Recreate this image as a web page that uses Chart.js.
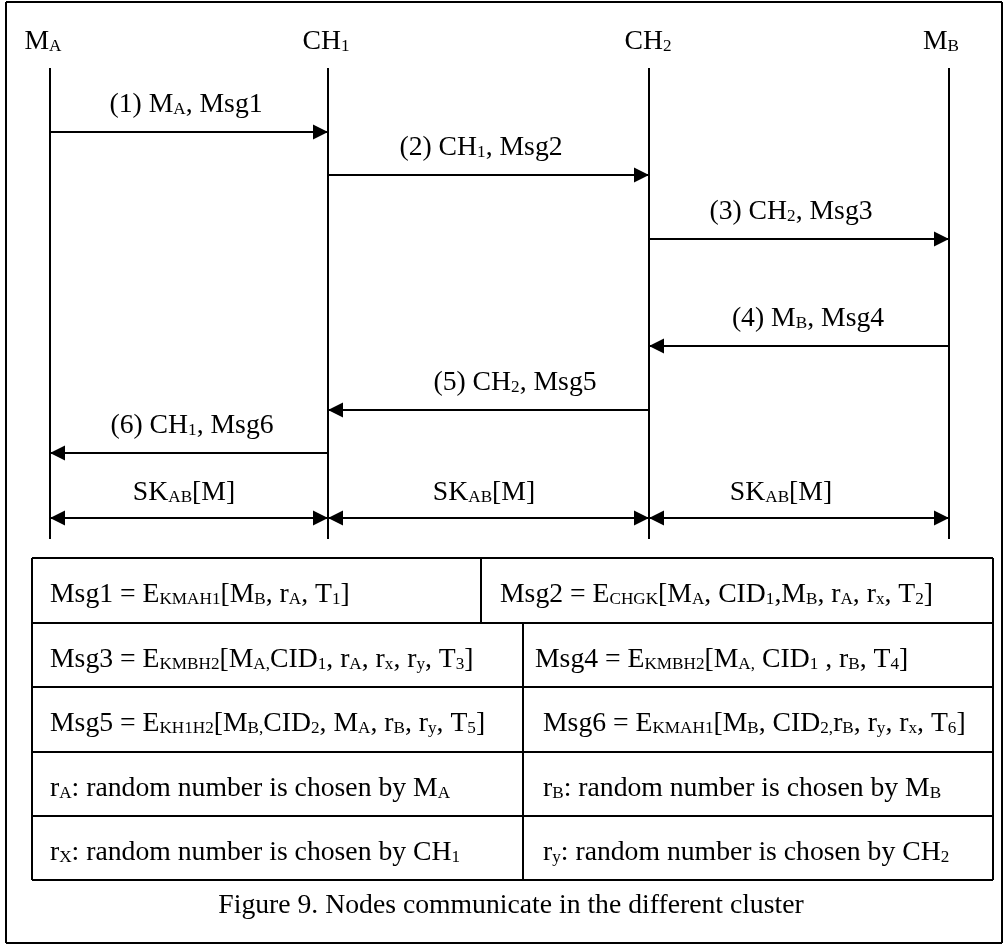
<!DOCTYPE html>
<html><head><meta charset="utf-8">
<script src="https://cdn.jsdelivr.net/npm/chart.js@4/dist/chart.umd.min.js"></script>
<style>html,body{margin:0;padding:0;background:#fff;}#wrap{width:1005px;height:945px;}</style>
</head><body><div id="wrap"><canvas id="c" width="1005" height="945"></canvas></div>
<script>
// ---- data ----
const participants = ['M_{A}', 'CH_{1}', 'CH_{2}', 'M_{B}'];
const lifelineX = [50, 328, 649, 949];
const messageFrom = [0, 1, 2, 3, 2, 1];
const messageTo   = [1, 2, 3, 2, 1, 0];
const messageY    = [132, 175, 239, 346, 410, 453];
const messageLabels = ['(1) M_{A}, Msg1', '(2) CH_{1}, Msg2', '(3) CH_{2}, Msg3',
                       '(4) M_{B}, Msg4', '(5) CH_{2}, Msg5', '(6) CH_{1}, Msg6'];
const keySpans = [[0, 1], [1, 2], [2, 3]];
const keyLabel = 'SK_{AB}[M]';
const tableLeft = [
  'Msg1 = E_{KMAH1}[M_{B}, r_{A}, T_{1}]',
  'Msg3 = E_{KMBH2}[M_{A,}CID_{1}, r_{A}, r_{x}, r_{y}, T_{3}]',
  'Msg5 = E_{KH1H2}[M_{B,}CID_{2}, M_{A}, r_{B}, r_{y}, T_{5}]',
  'r_{A}: random number is chosen by M_{A}',
  'r_{X}: random number is chosen by CH_{1}'
];
const tableRight = [
  'Msg2 = E_{CHGK}[M_{A}, CID_{1},M_{B}, r_{A}, r_{x}, T_{2}]',
  'Msg4 = E_{KMBH2}[M_{A,} CID_{1} , r_{B}, T_{4}]',
  'Msg6 = E_{KMAH1}[M_{B}, CID_{2,}r_{B}, r_{y}, r_{x}, T_{6}]',
  'r_{B}: random number is chosen by M_{B}',
  'r_{y}: random number is chosen by CH_{2}'
];
const caption = 'Figure 9. Nodes communicate in the different cluster';

// ---- layout ----
const W = 1005, H = 945;
const frame = {l: 6, t: 2, r: 1002, b: 943};
const lifeTop = 68, lifeBottom = 539;
const keyY = 518;
const headerBaseline = 49;
const headerX = [43, 326, 648, 941];
const labelX = [186, 481, 791, 808, 515, 192];
const keyLabelX = [184, 484, 781];
const labelGap = 20;
const rowTops = [558, 623, 687, 752, 816, 880];
const tableX = {l: 32, r: 993};
const dividerX = [481, 523, 523, 523, 523];
const leftTextX = 50;
const rightTextX = [500, 535, 543, 543, 543];
const rowBaselineOffset = 44;
const captionX = 511, captionBaseline = 913;
const FONT = 'Liberation Serif';
const FS = 27.7, SUB = 0.62, SUBSHIFT = 2;
const arrowLen = 15, arrowHalf = 7.5;

// ---- datasets (lines) ----
const lineStyle = {showLine: true, borderColor: '#000', borderWidth: 2, pointRadius: 0, fill: false, clip: false};
const datasets = [];
function seg(x1, y1, x2, y2, w) {
  datasets.push(Object.assign({}, lineStyle, {borderWidth: w || 2, data: [{x: x1, y: y1}, {x: x2, y: y2}]}));
}
// frame
seg(frame.l, frame.t, frame.r, frame.t); seg(frame.r, frame.t, frame.r, frame.b);
seg(frame.r, frame.b, frame.l, frame.b); seg(frame.l, frame.b, frame.l, frame.t);
// lifelines
lifelineX.forEach(x => seg(x, lifeTop, x, lifeBottom));
// messages
messageFrom.forEach((f, i) => seg(lifelineX[f], messageY[i], lifelineX[messageTo[i]], messageY[i]));
// key spans
keySpans.forEach(s => seg(lifelineX[s[0]], keyY, lifelineX[s[1]], keyY));
// table
seg(tableX.l, rowTops[0], tableX.r, rowTops[0]);
rowTops.slice(1).forEach(y => seg(tableX.l, y, tableX.r, y));
seg(tableX.l, rowTops[0], tableX.l, rowTops[rowTops.length - 1]);
seg(tableX.r, rowTops[0], tableX.r, rowTops[rowTops.length - 1]);
dividerX.forEach((x, i) => seg(x, rowTops[i], x, rowTops[i + 1]));

// ---- rich text ----
function parseRich(str) {
  const parts = []; const re = /_\{([^}]*)\}/g; let last = 0, m;
  while ((m = re.exec(str))) {
    if (m.index > last) parts.push({t: str.slice(last, m.index), sub: false});
    parts.push({t: m[1], sub: true}); last = re.lastIndex;
  }
  if (last < str.length) parts.push({t: str.slice(last), sub: false});
  return parts;
}
function setFont(ctx, sub) { ctx.font = (sub ? FS * SUB : FS) + 'px "' + FONT + '"'; }
function richWidth(ctx, parts) {
  let w = 0; parts.forEach(p => { setFont(ctx, p.sub); w += ctx.measureText(p.t).width; }); return w;
}
function drawRich(ctx, str, x, y, align) {
  const parts = parseRich(str);
  let cx = x; const w = richWidth(ctx, parts);
  if (align === 'center') cx = x - w / 2;
  ctx.textAlign = 'left'; ctx.textBaseline = 'alphabetic'; ctx.fillStyle = '#000';
  parts.forEach(p => {
    setFont(ctx, p.sub);
    ctx.fillText(p.t, cx, y + (p.sub ? SUBSHIFT : 0));
    cx += ctx.measureText(p.t).width;
  });
}
function head(ctx, tipX, y, dir) {
  ctx.beginPath();
  ctx.moveTo(tipX, y);
  ctx.lineTo(tipX - dir * arrowLen, y - arrowHalf);
  ctx.lineTo(tipX - dir * arrowLen, y + arrowHalf);
  ctx.closePath(); ctx.fillStyle = '#000'; ctx.fill();
}

const diagramPlugin = {
  id: 'diagram',
  afterDatasetsDraw(chart) {
    const ctx = chart.ctx, xs = chart.scales.x, ys = chart.scales.y;
    const px = v => xs.getPixelForValue(v), py = v => ys.getPixelForValue(v);
    ctx.save();
    participants.forEach((p, i) => drawRich(ctx, p, px(headerX[i]), py(headerBaseline), 'center'));
    messageFrom.forEach((f, i) => {
      const t = messageTo[i];
      const dir = lifelineX[t] > lifelineX[f] ? 1 : -1;
      head(ctx, px(lifelineX[t]), py(messageY[i]), dir);
      drawRich(ctx, messageLabels[i], px(labelX[i]), py(messageY[i] - labelGap), 'center');
    });
    keySpans.forEach((s, i) => {
      head(ctx, px(lifelineX[s[1]]), py(keyY), 1);
      head(ctx, px(lifelineX[s[0]]), py(keyY), -1);
      drawRich(ctx, keyLabel, px(keyLabelX[i]), py(keyY - labelGap + 2), 'center');
    });
    tableLeft.forEach((t, i) => drawRich(ctx, t, px(leftTextX), py(rowTops[i] + rowBaselineOffset), 'left'));
    tableRight.forEach((t, i) => drawRich(ctx, t, px(rightTextX[i]), py(rowTops[i] + rowBaselineOffset), 'left'));
    drawRich(ctx, caption, px(captionX), py(captionBaseline), 'center');
    ctx.restore();
  }
};

new Chart(document.getElementById('c'), {
  type: 'scatter',
  data: {datasets},
  options: {
    responsive: false, animation: false, events: [],
    layout: {padding: 0},
    plugins: {legend: {display: false}, tooltip: {enabled: false}, title: {display: false}},
    scales: {
      x: {type: 'linear', min: 0, max: W, display: false},
      y: {type: 'linear', min: 0, max: H, reverse: true, display: false}
    }
  },
  plugins: [diagramPlugin]
});
</script></body></html>
